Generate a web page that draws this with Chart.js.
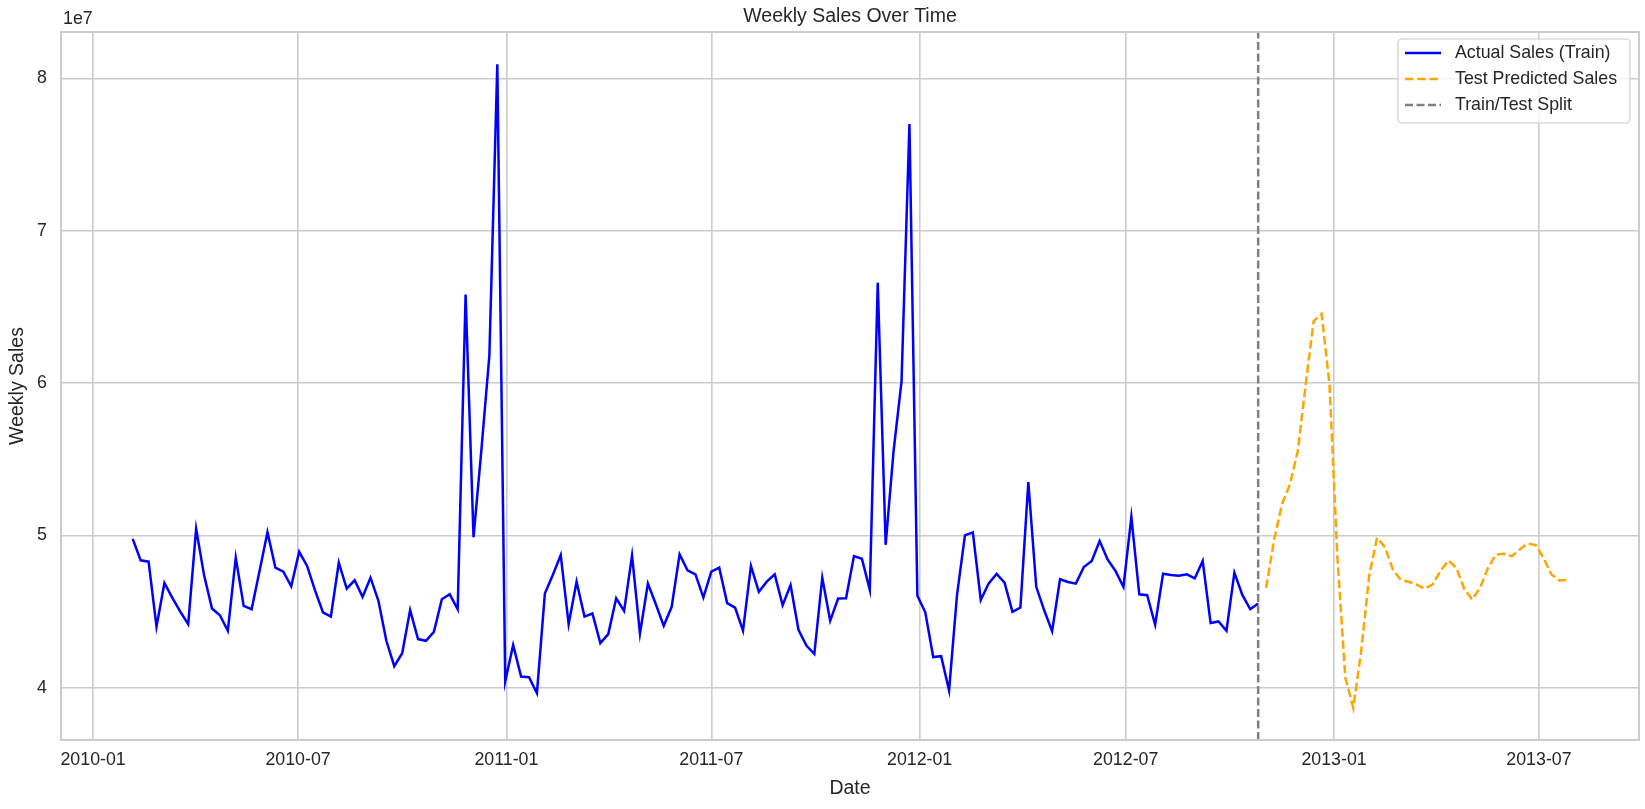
<!DOCTYPE html>
<html>
<head>
<meta charset="utf-8">
<script src="https://cdn.jsdelivr.net/npm/chart.js@4.4.1/dist/chart.umd.min.js"></script>
<style>
html, body { margin: 0; padding: 0; background: #ffffff; }
#c { display: block; }
</style>
</head>
<body>
<canvas id="c" width="1645" height="809"></canvas>
<script>
// ---------------- data ----------------
const chartTitle = 'Weekly Sales Over Time';
const xAxisTitle = 'Date';
const yAxisTitle = 'Weekly Sales';
const yOffsetText = '1e7';
const trainLabel = 'Actual Sales (Train)';
const testLabel = 'Test Predicted Sales';
const splitLabel = 'Train/Test Split';

const trainStart = '2010-02-05';   // first weekly date of the training series
const testStart = '2012-11-02';    // first weekly date of the test predictions
const splitDate = '2012-10-26';    // train/test split marker

const trainSales = [
  49.78e6, 48.37e6, 48.28e6, 44.01e6, 46.88e6, 45.90e6, 45.00e6, 44.18e6, 50.44e6, 47.40e6,
  45.21e6, 44.77e6, 43.75e6, 48.54e6, 45.38e6, 45.16e6, 47.67e6, 50.22e6, 47.89e6, 47.63e6,
  46.67e6, 48.93e6, 48.00e6, 46.40e6, 44.95e6, 44.68e6, 48.21e6, 46.51e6, 47.06e6, 45.97e6,
  47.23e6, 45.71e6, 43.09e6, 41.42e6, 42.27e6, 45.10e6, 43.20e6, 43.09e6, 43.68e6, 45.82e6,
  46.14e6, 45.16e6, 65.82e6, 49.89e6, 55.67e6, 61.82e6, 80.93e6, 40.43e6, 42.81e6, 40.74e6,
  40.70e6, 39.65e6, 46.19e6, 47.41e6, 48.71e6, 44.18e6, 46.97e6, 44.68e6, 44.88e6, 42.94e6,
  43.53e6, 45.88e6, 45.05e6, 48.69e6, 43.57e6, 46.84e6, 45.49e6, 44.07e6, 45.32e6, 48.76e6,
  47.71e6, 47.45e6, 45.93e6, 47.63e6, 47.89e6, 45.56e6, 45.27e6, 43.75e6, 48.00e6, 46.30e6,
  46.97e6, 47.45e6, 45.42e6, 46.75e6, 43.81e6, 42.77e6, 42.22e6, 47.23e6, 44.40e6, 45.86e6,
  45.88e6, 48.65e6, 48.47e6, 46.43e6, 66.59e6, 49.39e6, 55.56e6, 60.09e6, 77.00e6, 46.04e6,
  44.96e6, 42.02e6, 42.08e6, 39.83e6, 46.09e6, 50.01e6, 50.20e6, 45.77e6, 46.86e6, 47.48e6,
  46.90e6, 44.99e6, 45.27e6, 53.50e6, 46.63e6, 45.09e6, 43.72e6, 47.13e6, 46.95e6, 46.84e6,
  47.93e6, 48.32e6, 49.63e6, 48.43e6, 47.67e6, 46.62e6, 51.22e6, 46.14e6, 46.08e6, 44.14e6,
  47.49e6, 47.41e6, 47.36e6, 47.45e6, 47.19e6, 48.32e6, 44.25e6, 44.36e6, 43.75e6, 47.56e6,
  46.10e6, 45.16e6, 45.53e6
];

const testPredicted = [
  46.56e6, 49.67e6, 52.04e6, 53.35e6, 55.54e6, 59.91e6, 64.07e6, 64.55e6, 59.91e6, 48.53e6,
  40.66e6, 38.69e6, 42.41e6, 47.33e6, 49.85e6, 49.23e6, 47.77e6, 47.09e6, 46.96e6, 46.78e6,
  46.50e6, 46.78e6, 47.66e6, 48.36e6, 47.88e6, 46.50e6, 45.80e6, 46.56e6, 47.88e6, 48.75e6,
  48.80e6, 48.64e6, 49.08e6, 49.47e6, 49.37e6, 48.53e6, 47.44e6, 47.05e6, 47.09e6
];

const xTickDates = ['2010-01-01', '2010-07-01', '2011-01-01', '2011-07-01',
                    '2012-01-01', '2012-07-01', '2013-01-01', '2013-07-01'];
const xTickLabels = ['2010-01', '2010-07', '2011-01', '2011-07',
                     '2012-01', '2012-07', '2013-01', '2013-07'];
const yTickValues = [40e6, 50e6, 60e6, 70e6, 80e6];
const yTickLabels = ['4', '5', '6', '7', '8'];

// ---------------- helpers ----------------
const DAY_MS = 86400000;
const toDay = s => Date.parse(s + 'T00:00:00Z') / DAY_MS;
const weekDay = (start, i) => toDay(start) + 7 * i;

const trainPoints = trainSales.map((v, i) => ({ x: weekDay(trainStart, i), y: v }));
const testPoints = testPredicted.map((v, i) => ({ x: weekDay(testStart, i), y: v }));
const xTickDays = xTickDates.map(toDay);
const splitDay = toDay(splitDate);

// matplotlib-like 5% margins
const allX = trainPoints.concat(testPoints).map(p => p.x);
const allY = trainSales.concat(testPredicted);
const xLo = Math.min(...allX), xHi = Math.max(...allX);
const yLo = Math.min(...allY), yHi = Math.max(...allY);
const xMin = xLo - 0.05 * (xHi - xLo), xMax = xHi + 0.05 * (xHi - xLo);
const yMin = yLo - 0.05 * (yHi - yLo), yMax = yHi + 0.05 * (yHi - yLo);

const FONT = "'Liberation Sans', Arial, Helvetica, sans-serif";
const TEXT = '#262626';
const GRID = '#cccccc';
const TICK_SIZE = 17.8;
const LABEL_SIZE = 19.5;

Chart.defaults.font.family = FONT;
Chart.defaults.color = TEXT;

// frame (all four spines, drawn above the data as in matplotlib)
const framePlugin = {
  id: 'frame',
  afterDatasetsDraw(chart) {
    const { ctx, chartArea: a } = chart;
    ctx.save();
    ctx.strokeStyle = GRID;
    ctx.lineWidth = 2;
    ctx.strokeRect(a.left, a.top, a.right - a.left, a.bottom - a.top);
    ctx.restore();
  }
};

// "1e7" offset text
const offsetTextPlugin = {
  id: 'offsetText',
  afterDraw(chart) {
    const { ctx, chartArea: a } = chart;
    ctx.save();
    ctx.font = `${TICK_SIZE}px ${FONT}`;
    ctx.fillStyle = TEXT;
    ctx.textAlign = 'left';
    ctx.textBaseline = 'middle';
    ctx.fillText(yOffsetText, a.left + 2, 19.5);
    ctx.restore();
  }
};

// legend box inside the axes, upper right
const legendPlugin = {
  id: 'boxLegend',
  afterDraw(chart) {
    const { ctx, chartArea: a } = chart;
    const boxW = 232, boxH = 84;
    const bx = a.right - 9 - boxW, by = a.top + 7;
    ctx.save();
    ctx.beginPath();
    if (ctx.roundRect) ctx.roundRect(bx, by, boxW, boxH, 4); else ctx.rect(bx, by, boxW, boxH);
    ctx.fillStyle = 'rgba(255,255,255,0.8)';
    ctx.fill();
    ctx.strokeStyle = GRID;
    ctx.lineWidth = 1.2;
    ctx.stroke();
    chart.data.datasets.forEach((ds, k) => {
      const cy = by + 14 + k * 26;
      ctx.beginPath();
      ctx.setLineDash(ds.borderDash || []);
      ctx.strokeStyle = ds.borderColor;
      ctx.lineWidth = ds.borderWidth;
      ctx.moveTo(bx + 7, cy);
      ctx.lineTo(bx + 43, cy);
      ctx.stroke();
      ctx.setLineDash([]);
      ctx.font = `${TICK_SIZE}px ${FONT}`;
      ctx.fillStyle = TEXT;
      ctx.textAlign = 'left';
      ctx.textBaseline = 'middle';
      ctx.fillText(ds.label, bx + 57, cy);
    });
    ctx.restore();
  }
};

new Chart(document.getElementById('c'), {
  type: 'line',
  data: {
    datasets: [
      { label: trainLabel, data: trainPoints, borderColor: '#0000ff', borderWidth: 2.5,
        pointRadius: 0, fill: false, tension: 0 },
      { label: testLabel, data: testPoints, borderColor: '#ffa500', borderWidth: 2.5,
        borderDash: [8.5, 3.7], pointRadius: 0, fill: false, tension: 0 },
      { label: splitLabel, data: [{ x: splitDay, y: yMin }, { x: splitDay, y: yMax }],
        borderColor: '#808080', borderWidth: 2.5, borderDash: [8, 3.5],
        pointRadius: 0, fill: false, tension: 0 }
    ]
  },
  options: {
    responsive: false,
    animation: false,
    devicePixelRatio: 1,
    layout: { padding: { left: 0, right: 6, top: 0, bottom: 0 } },
    plugins: {
      legend: { display: false },
      tooltip: { enabled: false },
      title: {
        display: true, text: chartTitle, fullSize: false, color: TEXT,
        font: { size: LABEL_SIZE, weight: 'normal', family: FONT },
        padding: { top: 4.5, bottom: 4.1 }
      }
    },
    scales: {
      x: {
        type: 'linear', min: xMin, max: xMax,
        afterFit: s => { s.height = 69; },
        afterBuildTicks: s => { s.ticks = xTickDays.map(v => ({ value: v })); },
        ticks: {
          autoSkip: false, maxRotation: 0, minRotation: 0, padding: 9.5, color: TEXT,
          font: { size: TICK_SIZE, family: FONT },
          callback: (v, i) => xTickLabels[i]
        },
        grid: { color: GRID, lineWidth: 1.6, drawTicks: false },
        border: { display: false },
        title: {
          display: true, text: xAxisTitle, color: TEXT,
          font: { size: LABEL_SIZE, family: FONT },
          padding: { top: 0, bottom: 8.3 }
        }
      },
      y: {
        type: 'linear', min: yMin, max: yMax,
        afterFit: s => { s.width = 61; },
        afterBuildTicks: s => { s.ticks = yTickValues.map(v => ({ value: v })); },
        ticks: {
          autoSkip: false, padding: 14, color: TEXT,
          font: { size: TICK_SIZE, family: FONT },
          callback: (v, i) => yTickLabels[i]
        },
        grid: { color: GRID, lineWidth: 1.6, drawTicks: false },
        border: { display: false },
        title: {
          display: true, text: yAxisTitle, color: TEXT,
          font: { size: LABEL_SIZE, family: FONT },
          padding: { top: 5.7, bottom: 0 }
        }
      }
    }
  },
  plugins: [framePlugin, legendPlugin, offsetTextPlugin]
});
</script>
</body>
</html>
